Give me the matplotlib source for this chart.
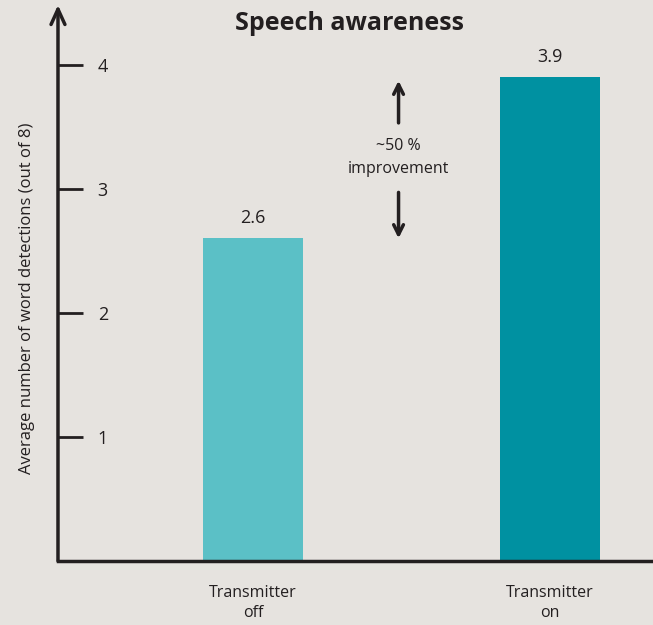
import matplotlib.pyplot as plt

# data
categories = ["Transmitter\noff", "Transmitter\non"]
values = [2.6, 3.9]
bar_colors = ["#5BC0C6", "#0091A1"]
yticks = [1, 2, 3, 4]

bg = "#E6E3DF"
ink = "#231F20"
plt.rcParams['font.family'] = ['Open Sans', 'DejaVu Sans']

fig = plt.figure(figsize=(6.53, 6.25), dpi=100, facecolor=bg)
ax = fig.add_axes([0.0888, 0.1024, 0.9112, 0.8896])
ax.set_facecolor(bg)

x = list(range(len(categories)))
ax.bar(x, values, width=0.337, color=bar_colors, zorder=2)
for xi, v in zip(x, values):
    ax.text(xi, v + 0.09, f"{v:.1f}", ha='center', va='bottom', fontsize=13, color=ink)

ax.set_xlim(-0.657, 1.347)
ax.set_ylim(0, 4.48)

# axes styling
for s in ['top', 'right', 'left']:
    ax.spines[s].set_visible(False)
ax.spines['bottom'].set_linewidth(2.5)
ax.spines['bottom'].set_color(ink)
ax.annotate('', xy=(0, 1.0), xytext=(0, 0), xycoords='axes fraction',
            arrowprops=dict(arrowstyle='->,head_length=1.1,head_width=0.5',
                            lw=2.5, color=ink, shrinkA=0, shrinkB=0))

ax.set_yticks(yticks)
ax.set_yticklabels([str(t) for t in yticks])
ax.tick_params(axis='y', direction='in', length=18, width=2, color=ink,
               pad=-36, labelsize=13, labelcolor=ink)
ax.set_xticks(x)
ax.set_xticklabels(categories, fontsize=11.5, color=ink, linespacing=1.35)
ax.tick_params(axis='x', length=0, pad=17)

ax.set_ylabel("Average number of word detections (out of 8)", fontsize=12,
              color=ink)
ax.yaxis.set_label_coords(-0.038, 0.473)

ax.set_title("Speech awareness", fontsize=18, fontweight='bold', color=ink,
             x=0.49, y=0.94)

# improvement annotation
ax.text(0.49, 3.25, "~50 %\nimprovement", ha='center', va='center',
        fontsize=11.5, color=ink, linespacing=1.6)
ax.annotate('', xy=(0.49, 3.87), xytext=(0.49, 3.53),
            arrowprops=dict(arrowstyle='->,head_length=0.7,head_width=0.35',
                            lw=2.5, color=ink, shrinkA=0, shrinkB=0))
ax.annotate('', xy=(0.49, 2.60), xytext=(0.49, 2.97),
            arrowprops=dict(arrowstyle='->,head_length=0.7,head_width=0.35',
                            lw=2.5, color=ink, shrinkA=0, shrinkB=0))

fig.savefig("out.png", dpi=100, facecolor=bg)
